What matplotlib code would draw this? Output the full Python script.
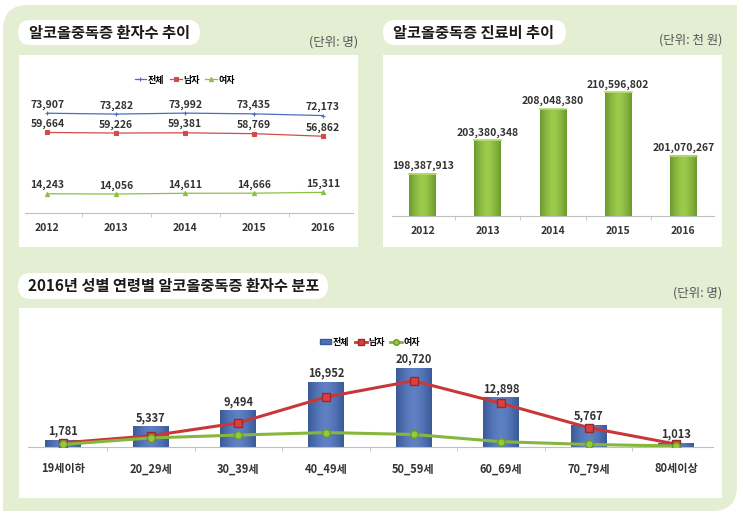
import matplotlib
matplotlib.use('Agg')
import matplotlib.pyplot as plt
import numpy as np
from matplotlib.patches import FancyBboxPatch, Rectangle
from matplotlib.lines import Line2D

plt.rcParams['font.family'] = ['Noto Sans CJK KR', 'DejaVu Sans']
NUM_FONT = ['Liberation Sans Narrow', 'Noto Sans CJK KR', 'DejaVu Sans']

# --- data ---
years = ['2012', '2013', '2014', '2015', '2016']
pat_total = [73907, 73282, 73992, 73435, 72173]
pat_male = [59664, 59226, 59381, 58769, 56862]
pat_female = [14243, 14056, 14611, 14666, 15311]

cost = [198387913, 203380348, 208048380, 210596802, 201070267]

ages = ['19세이하', '20_29세', '30_39세', '40_49세', '50_59세', '60_69세', '70_79세', '80세이상']
age_total = [1781, 5337, 9494, 16952, 20720, 12898, 5767, 1013]
age_male = [1100, 2950, 6350, 13150, 17420, 11500, 5100, 750]
age_female = [681, 2387, 3144, 3802, 3300, 1398, 667, 263]

W, H = 743, 517
BG = '#e4eed3'
TXT = '#333333'

fig = plt.figure(figsize=(W / 100, H / 100), dpi=100)
fig.patch.set_facecolor('white')

# background layer in pixel units
bg = fig.add_axes([0, 0, 1, 1], zorder=-1)
bg.set_xlim(0, W)
bg.set_ylim(H, 0)
bg.axis('off')

bg.add_patch(FancyBboxPatch((3 + 25, 5 + 25), 734 - 50, 506 - 50,
                            boxstyle='round,pad=25', fc=BG, ec='none'))
bg.add_patch(Rectangle((700, 5), 37, 40, fc=BG, ec='none'))
bg.add_patch(Rectangle((3, 470), 40, 41, fc=BG, ec='none'))

# white panels
for x0, y0, x1, y1 in [(19, 55, 358, 247), (383, 55, 722, 247), (19, 308, 722, 498)]:
    bg.add_patch(Rectangle((x0, y0), x1 - x0, y1 - y0, fc='white', ec='none'))

# title pills
def pill(x0, y0, x1, y1, text, tx):
    r = (y1 - y0) / 2
    bg.add_patch(FancyBboxPatch((x0 + r, y0 + r), (x1 - x0) - 2 * r, 0,
                                boxstyle='round,pad=%f' % r, fc='white', ec='none'))
    bg.text(tx, (y0 + y1) / 2 + 0.5, text, fontsize=11, weight='bold',
            color='#1a1a1a', ha='left', va='center')

pill(18, 20, 200, 45, '알코올중독증 환자수 추이', 29)
pill(383, 20, 566, 45, '알코올중독증 진료비 추이', 393)
pill(18, 273, 328, 299, '2016년 성별 연령별 알코올중독증 환자수 분포', 28)

unit_kw = dict(fontsize=9, color='#555555', ha='right', va='center')
bg.text(358, 42, '(단위: 명)', **unit_kw)
bg.text(722, 40, '(단위: 천 원)', **unit_kw)
bg.text(722, 293, '(단위: 명)', **unit_kw)


def px_axes(x0, y0, x1, y1):
    ax = fig.add_axes([x0 / W, 1 - y1 / H, (x1 - x0) / W, (y1 - y0) / H])
    ax.set_facecolor('none')
    for s in ['top', 'left', 'right']:
        ax.spines[s].set_visible(False)
    ax.spines['bottom'].set_color('#bfbfbf')
    ax.spines['bottom'].set_linewidth(0.8)
    ax.set_yticks([])
    return ax


def cat_axis(ax, labels, size, pad):
    n = len(labels)
    ax.set_xticks(range(n))
    ax.set_xticklabels(labels, fontsize=size, weight='bold', color=TXT, family=NUM_FONT)
    ax.set_xticks(np.arange(0.5, n - 1, 1), minor=True)
    ax.tick_params(axis='x', which='major', length=0, pad=pad)
    ax.tick_params(axis='x', which='minor', length=3, color='#bfbfbf')


def value_label(ax, x, v, dy, size):
    ax.annotate(f'{v:,}', (x, v), xytext=(0, dy), textcoords='offset points',
                ha='center', va='bottom', fontsize=size, weight='bold',
                color=TXT, family=NUM_FONT)


def gradient_bar(ax, x, w, y0, y1, c_edge, c_mid):
    ce = np.array(matplotlib.colors.to_rgb(c_edge))
    cm = np.array(matplotlib.colors.to_rgb(c_mid))
    t = np.linspace(-1, 1, 40)
    k = 1 - np.abs(t) ** 1.5
    row = ce[None, :] * (1 - k[:, None]) + cm[None, :] * k[:, None]
    ax.imshow(row[None, :, :], extent=(x - w / 2, x + w / 2, y0, y1),
              aspect='auto', interpolation='bicubic', zorder=2)


# --- top left: patients trend ---
ax1 = px_axes(25, 105, 353, 213)
xs = np.arange(len(years))
series = [
    ('전체', pat_total, '#4a6fc2', '+'),
    ('남자', pat_male, '#d24b4b', 's'),
    ('여자', pat_female, '#8cc045', '^'),
]
for name, vals, col, mk in series:
    ax1.plot(xs, vals, color=col, lw=0.9, marker=mk, ms=3, mew=0.8, label=name)
    for x, v in zip(xs, vals):
        value_label(ax1, x, v, 2.5, 7.5)
ax1.set_xlim(-0.324, 4.436)
ax1.set_ylim(0, 80000)
cat_axis(ax1, years, 7.5, 7)
fig.legend(handles=ax1.get_lines(), loc='center', bbox_to_anchor=(185 / W, 1 - 80 / H),
           ncol=3, frameon=False, handlelength=1.3, handletextpad=0.2,
           columnspacing=0.6, prop={'weight': 'bold', 'size': 6.5})

# --- top right: medical cost ---
ax2 = px_axes(392, 75, 714, 216)
ymin2 = 192e6
for x, v in zip(xs, cost):
    gradient_bar(ax2, x, 0.41, ymin2, v, '#6c9a2e', '#9ccb4c')
    ax2.plot([x - 0.205, x + 0.205], [v, v], color='#b6dc6e', lw=1.2, zorder=3)
    value_label(ax2, x, v, 2, 7.5)
ax2.set_xlim(-0.47, 4.47)
ax2.set_ylim(ymin2, 213.2e6)
cat_axis(ax2, years, 7.5, 7)

# --- bottom: by age group ---
ax3 = px_axes(28, 333, 713, 447)
xa = np.arange(len(ages))
for x, v in zip(xa, age_total):
    gradient_bar(ax3, x, 0.41, 0, v, '#3a5a98', '#5f81c4')
    value_label(ax3, x, v, 2, 8)
ax3.plot(xa, age_male, color='#c8383a', lw=2.2, marker='s', ms=5.5,
         mfc='#d9413f', mec='#a02828', zorder=4)
ax3.plot(xa, age_female, color='#86b63c', lw=2.2, marker='o', ms=5.5,
         mfc='#95c83e', mec='#6a9a28', zorder=5)
ax3.set_xlim(-0.403, 7.42)
ax3.set_ylim(0, 30000)
cat_axis(ax3, ages, 8, 11)

h3 = [Rectangle((0, 0), 1, 1, fc='#4f70b5', ec='#3a5a98'),
      Line2D([], [], color='#c8383a', lw=2, marker='s', ms=4, mfc='#d9413f', mec='#a02828'),
      Line2D([], [], color='#86b63c', lw=2, marker='o', ms=4, mfc='#95c83e', mec='#6a9a28')]
fig.legend(handles=h3, labels=['전체', '남자', '여자'], loc='center',
           bbox_to_anchor=(370 / W, 1 - 342 / H), ncol=3, frameon=False,
           handlelength=1.3, handleheight=0.5, handletextpad=0.2, columnspacing=0.6,
           prop={'weight': 'bold', 'size': 6.5})

fig.savefig('out.png', dpi=100, facecolor=fig.get_facecolor())
